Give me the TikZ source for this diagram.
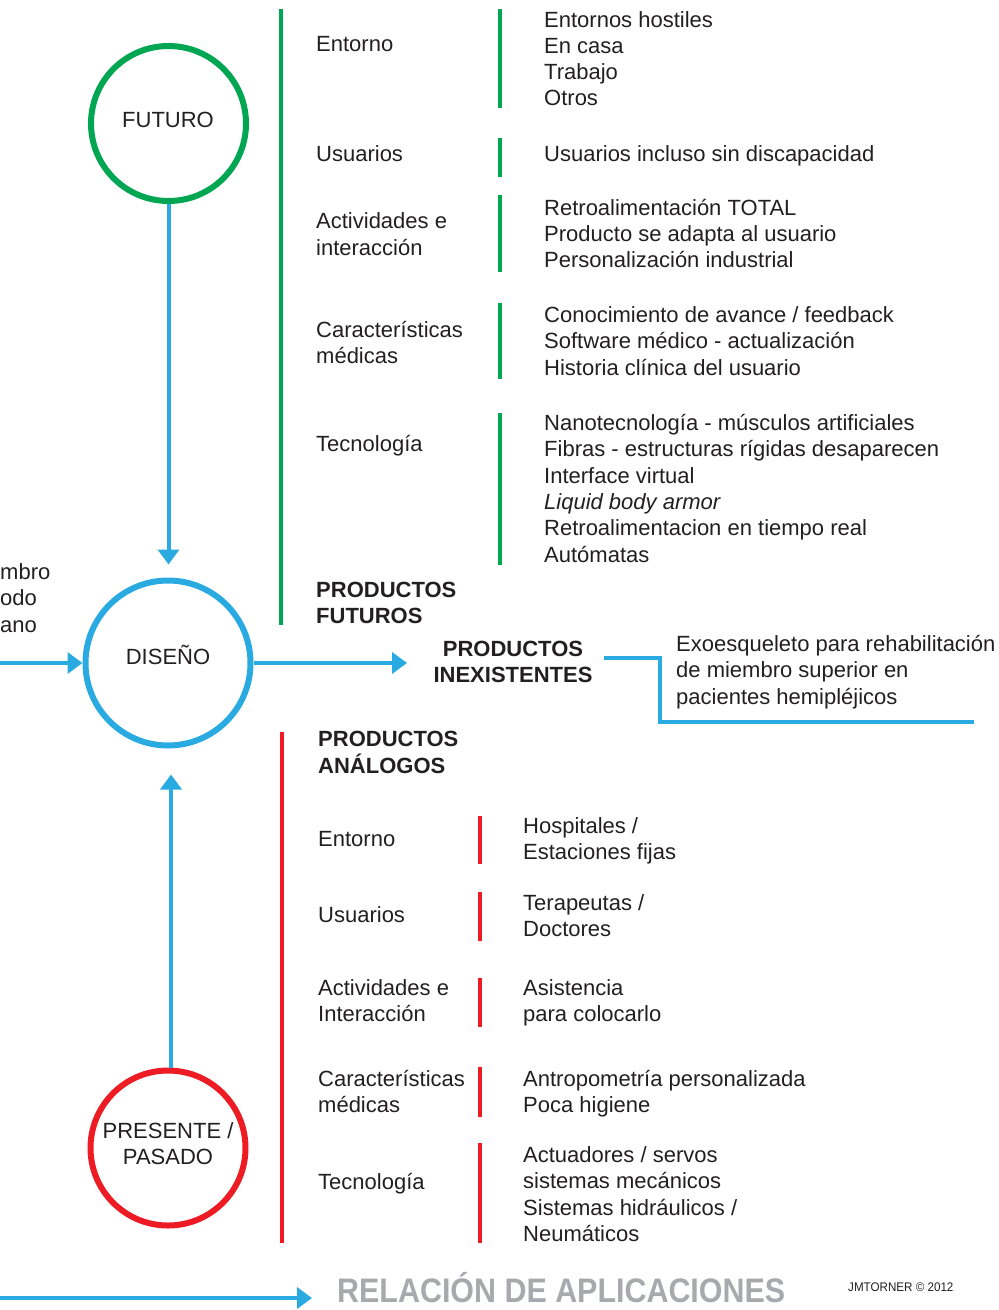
\documentclass[tikz,border=0pt]{standalone}
\usepackage{fontspec}
\setmainfont{Liberation Sans}
\usetikzlibrary{arrows.meta}
\definecolor{futgreen}{HTML}{00A651}
\definecolor{disblue}{HTML}{29ABE2}
\definecolor{pasred}{HTML}{ED1C24}
\definecolor{ink}{HTML}{231F20}
\definecolor{mute}{HTML}{A7A9AC}
\begin{document}
% multi-line nodes sit on the baseline of their last line
\begin{tikzpicture}[x=1pt,y=-1pt,
  era/.style={circle, draw, line width=6pt, inner sep=0pt},
  lbl/.style={inner sep=0pt, align=center, text=ink, font=\fontsize{22}{26.3}\selectfont},
  txt/.style={anchor=base west, inner sep=0pt, align=left, text=ink, font=\fontsize{22}{26.3}\selectfont},
  head/.style={txt, font=\fontsize{22}{26.3}\selectfont\bfseries},
  flow/.style={disblue, line width=4pt, -{Triangle[length=15pt,width=21pt]}},
  rule/.style={line width=3.7pt},
  bar/.style={line width=4pt}]
\useasboundingbox (0,0) rectangle (999,1310);

% time circles
\node[era, draw=futgreen, minimum size=155pt] (futuro) at (168.5,123.5) {};
\node[era, draw=disblue, minimum size=165pt] (diseno) at (168,663) {};
\node[era, draw=pasred, minimum size=155pt] (presente) at (168,1148) {};
\node[lbl, anchor=base] (futurotxt) at (168,127) {FUTURO};
\node[lbl, anchor=base] (disenotxt) at (168,664.5) {DISEÑO};
\node[lbl, anchor=base] (presentetxt) at (168,1164.8) {PRESENTE /\\PASADO};

% flows into and out of the design stage
\draw[flow, shorten >=13pt] (futuro.south) -- (futuro.south |- diseno.north);
\draw[flow, shorten >=26pt] ([xshift=3pt]presente.north) -- ([xshift=3pt]diseno.south);
\coordinate (instart) at (0,663);
\draw[flow] (instart) -- (diseno.west);
\coordinate (outend) at (407,663);
\draw[flow] (diseno.east) -- (outend);

\node[txt] (cut) at (0,632.1) {mbro\\odo\\ano};

% future products
\draw[rule, futgreen] (281,9) coordinate (gtop) -- (281,625) coordinate (gbot);
\foreach \a/\b in {9/108, 138/177, 195/272, 303/379, 413/565}
  \draw[bar, futgreen] (500,\a) -- (500,\b);

\node[txt] (fent) at (316,51.5) {Entorno};
\node[txt] (fusu) at (316,161.5) {Usuarios};
\node[txt] (fact) at (316,255) {Actividades e\\interacción};
\node[txt] (fcar) at (316,363.5) {Características\\médicas};
\node[txt] (ftec) at (316,451.5) {Tecnología};
\node[head] (fprod) at (316,623.6) {PRODUCTOS\\FUTUROS};

\node[txt] (fentr) at (544,105.9) {Entornos hostiles\\En casa\\Trabajo\\Otros};
\node[txt] (fusur) at (544,161.5) {Usuarios incluso sin discapacidad};
\node[txt] (factr) at (544,267.6) {Retroalimentación TOTAL\\Producto se adapta al usuario\\Personalización industrial};
\node[txt] (fcarr) at (544,375.1) {Conocimiento de avance / feedback\\Software médico - actualización\\Historia clínica del usuario};
\node[txt] (ftecr) at (544,562) {Nanotecnología - músculos artificiales\\Fibras - estructuras rígidas desaparecen\\Interface virtual\\\textit{Liquid body armor}\\Retroalimentacion en tiempo real\\Autómatas};

% products that do not exist yet
\node[head, anchor=base, align=center] (inex) at (513,682.3) {PRODUCTOS\\INEXISTENTES};
\node[txt] (exo) at (676,704.1) {Exoesqueleto para rehabilitación\\de miembro superior en\\pacientes hemipléjicos};
\coordinate (exostart) at (604,658);
\coordinate (exoend) at (974,722);
\draw[disblue, line width=4pt] (exostart) -| (660,722) -- (exoend);

% analogous products
\draw[rule, pasred] (282,732) coordinate (rtop) -- (282,1243) coordinate (rbot);
\foreach \a/\b in {816/864, 891.5/940.5, 977.5/1026.5, 1067/1117, 1143/1243}
  \draw[bar, pasred] (479.5,\a) -- (479.5,\b);

\node[head] (aprod) at (318,773) {PRODUCTOS\\ANÁLOGOS};
\node[txt] (aent) at (318,846.7) {Entorno};
\node[txt] (ausu) at (318,922.7) {Usuarios};
\node[txt] (aact) at (318,1021.3) {Actividades e\\Interacción};
\node[txt] (acar) at (318,1112.8) {Características\\médicas};
\node[txt] (atec) at (318,1189.5) {Tecnología};

\node[txt] (aentr) at (523,859.6) {Hospitales /\\Estaciones fijas};
\node[txt] (ausur) at (523,936.3) {Terapeutas /\\Doctores};
\node[txt] (aactr) at (523,1021.3) {Asistencia\\para colocarlo};
\node[txt] (acarr) at (523,1112.8) {Antropometría personalizada\\Poca higiene};
\node[txt] (atecr) at (523,1241.4) {Actuadores / servos\\sistemas mecánicos\\Sistemas hidráulicos /\\Neumáticos};

% footer
\coordinate (relstart) at (0,1298);
\coordinate (relend) at (312,1298);
\draw[flow] (relstart) -- (relend);
\node[anchor=base west, inner sep=0pt, text=mute, font=\fontsize{34}{34}\selectfont\bfseries] (rel) at (337,1302.5) {\scalebox{0.895}[1]{RELACIÓN DE APLICACIONES}};
\node[anchor=base west, inner sep=0pt, text=ink, font=\fontsize{12.5}{12.5}\selectfont] (sign) at (848,1291.5) {\scalebox{0.93}[1]{JMTORNER © 2012}};
\end{tikzpicture}
\end{document}
